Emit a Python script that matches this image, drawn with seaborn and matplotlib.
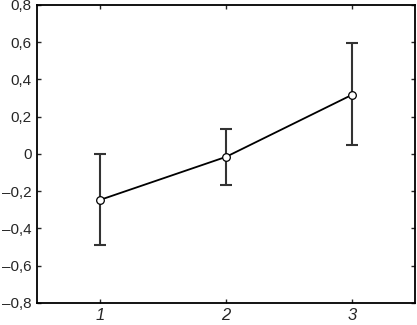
import numpy as np
import pandas as pd
import matplotlib
matplotlib.use("Agg")
import matplotlib.pyplot as plt
import matplotlib.ticker as mticker
import seaborn as sns

# valores
groups = [1, 2, 3]
means = [-0.247, -0.016, 0.317]
upper = [0.0, 0.134, 0.596]
lower = [-0.49, -0.166, 0.048]

df = pd.DataFrame({"grupo": groups, "media": means, "sup": upper, "inf": lower})

sns.set_style("white")
plt.rcParams["font.family"] = ["Liberation Sans", "DejaVu Sans"]

fig, ax = plt.subplots(figsize=(4.17, 3.25), dpi=100)
fig.subplots_adjust(left=0.089, right=0.995, top=0.985, bottom=0.068)

yerr = np.array([df["media"] - df["inf"], df["sup"] - df["media"]])
ax.errorbar(df["grupo"], df["media"], yerr=yerr, fmt="none", ecolor="#333333",
            elinewidth=1.5, capsize=4.5, capthick=1.5, zorder=2)
sns.lineplot(data=df, x="grupo", y="media", ax=ax, color="black", linewidth=1.3,
             marker="o", markersize=5.5, markerfacecolor="white",
             markeredgecolor="black", markeredgewidth=0.9, zorder=3)

ax.set_xlim(0.5, 3.5)
ax.set_ylim(-0.8, 0.8)
ax.set_xticks(groups)
ax.set_xticklabels([str(g) for g in groups], fontstyle="italic", fontsize=12)
ax.set_yticks(np.arange(-0.8, 0.81, 0.2))
ax.yaxis.set_major_formatter(mticker.FuncFormatter(
    lambda v, p: "0" if abs(v) < 1e-9 else f"{v:.1f}".replace(".", ",").replace("-", "\u2013")))
ax.tick_params(axis="y", labelsize=11)
ax.tick_params(direction="in", length=3, width=1, top=True, right=True,
               bottom=True, left=True, pad=4)
ax.set_xlabel("")
ax.set_ylabel("")
for s in ax.spines.values():
    s.set_visible(True)
    s.set_color("black")
    s.set_linewidth(1.3)

fig.savefig("out.png", dpi=100)
